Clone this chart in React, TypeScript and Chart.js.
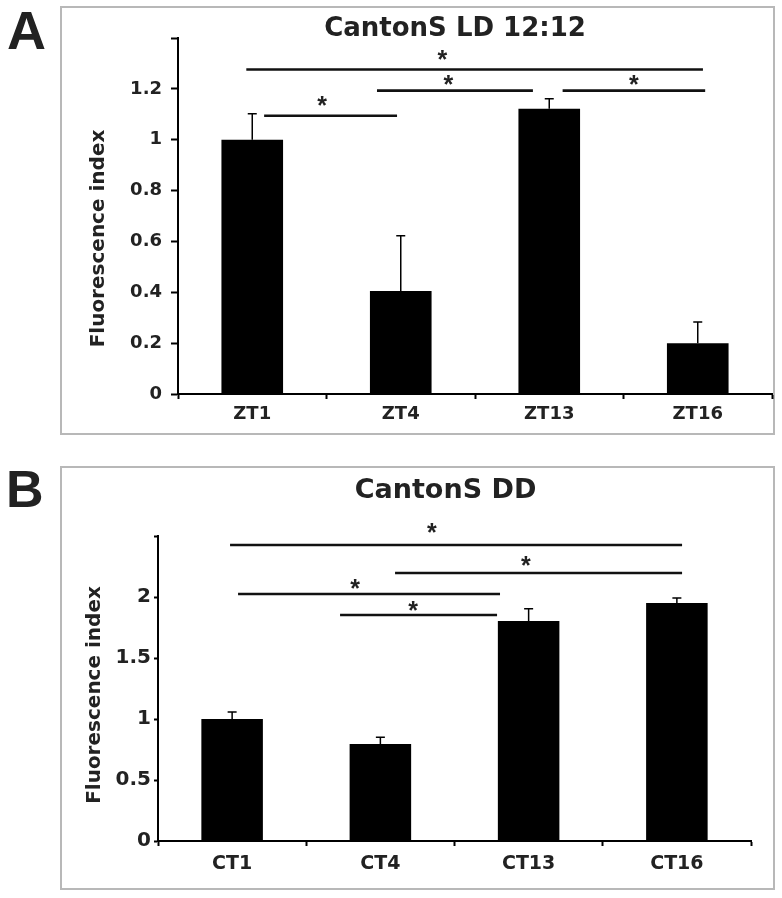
import React, { useEffect, useRef } from 'react';
import { Chart, registerables } from 'chart.js';

Chart.register(...registerables);

// ---------- Panel A data ----------
const titleA = 'CantonS LD 12:12';
const categoriesA = ['ZT1', 'ZT4', 'ZT13', 'ZT16'];
const valuesA = [1.0, 0.405, 1.122, 0.2];
const errorsA = [0.102, 0.217, 0.039, 0.083];
const yMaxA = 1.4;
const yStepA = 0.2;
// significance brackets (x in category index units, y in data units)
const sigStartA = [-0.04, 0.84, 2.09, 0.08];
const sigEndA = [3.035, 1.89, 3.05, 0.975];
const sigYA = [1.276, 1.193, 1.193, 1.094];
const starXA = [1.28, 1.32, 2.57, 0.47];
const starYA = [1.339, 1.24, 1.24, 1.157];

// ---------- Panel B data ----------
const titleB = 'CantonS DD';
const categoriesB = ['CT1', 'CT4', 'CT13', 'CT16'];
const valuesB = [1.0, 0.795, 1.803, 1.951];
const errorsB = [0.057, 0.055, 0.1, 0.041];
const yMaxB = 2.5;
const yStepB = 0.5;
const sigStartB = [-0.014, 1.099, 0.04, 0.728];
const sigEndB = [3.035, 3.035, 1.807, 1.787];
const sigYB = [2.426, 2.197, 2.025, 1.852];
const starXB = [1.348, 1.982, 0.829, 1.22];
const starYB = [2.574, 2.303, 2.115, 1.934];

const yLabel = 'Fluorescence index';

type Spec = {
  title: string;
  titleFont: number;
  titleX: number;
  titleBase: number;
  yTitleX: number;
  yTitleY: number;
  categories: string[];
  values: number[];
  errors: number[];
  yMax: number;
  yStep: number;
  sigStart: number[];
  sigEnd: number[];
  sigY: number[];
  starX: number[];
  starY: number[];
  width: number;
  height: number;
  padding: { left: number; right: number; top: number; bottom: number };
  yAxisWidth: number;
  xAxisHeight: number;
  yTickFont: number;
  xTickFont: number;
  yTickLen: number;
  yTickPad: number;
  xTickLen: number;
  xTickPad: number;
};

function makeOverlay(s: Spec) {
  return {
    id: 'overlay',
    afterDatasetsDraw(chart: any) {
      const { ctx } = chart;
      const xs = chart.scales.x;
      const ys = chart.scales.y;
      const meta = chart.getDatasetMeta(0);
      ctx.save();
      // error bars (upper only)
      ctx.strokeStyle = '#000';
      ctx.lineWidth = 1.5;
      s.errors.forEach((e, i) => {
        const px = meta.data[i].x;
        const top = ys.getPixelForValue(s.values[i]);
        const end = ys.getPixelForValue(s.values[i] + e);
        ctx.beginPath();
        ctx.moveTo(px, top);
        ctx.lineTo(px, end);
        ctx.moveTo(px - 4.5, end);
        ctx.lineTo(px + 4.5, end);
        ctx.stroke();
      });
      // significance lines
      ctx.strokeStyle = '#111';
      ctx.lineWidth = 2.6;
      s.sigStart.forEach((st, i) => {
        const x1 = xs.getPixelForValue(st);
        const x2 = xs.getPixelForValue(s.sigEnd[i]);
        const yy = ys.getPixelForValue(s.sigY[i]);
        ctx.beginPath();
        ctx.moveTo(x1, yy);
        ctx.lineTo(x2, yy);
        ctx.stroke();
      });
      // stars
      ctx.fillStyle = '#222';
      ctx.font = 'bold 25px "Liberation Sans", Arial, sans-serif';
      ctx.textAlign = 'center';
      ctx.textBaseline = 'alphabetic';
      s.starX.forEach((sx, i) => {
        const px = xs.getPixelForValue(sx);
        const py = ys.getPixelForValue(s.starY[i]);
        ctx.fillText('*', px, py + 14);
      });
      // title
      ctx.fillStyle = '#222';
      ctx.font = `bold ${s.titleFont}px "DejaVu Sans", sans-serif`;
      ctx.textAlign = 'center';
      ctx.textBaseline = 'alphabetic';
      ctx.fillText(s.title, s.titleX, s.titleBase);
      // y axis title
      ctx.translate(s.yTitleX, s.yTitleY);
      ctx.rotate(-Math.PI / 2);
      ctx.font = 'bold 20px "DejaVu Sans", sans-serif';
      ctx.textBaseline = 'middle';
      ctx.fillText(yLabel, 0, 0);
      ctx.restore();
    },
  };
}

function fmt(v: number) {
  return String(Number(v.toFixed(2)));
}

function buildConfig(s: Spec): any {
  return {
    type: 'bar',
    data: {
      labels: s.categories,
      datasets: [
        {
          data: s.values,
          backgroundColor: '#000',
          borderWidth: 0,
          categoryPercentage: 1,
          barPercentage: 0.415,
        },
      ],
    },
    options: {
      responsive: false,
      animation: false,
      events: [],
      layout: { padding: s.padding },
      plugins: {
        legend: { display: false },
        tooltip: { enabled: false },
        title: { display: false },
      },
      scales: {
        x: {
          grid: {
            display: true,
            drawOnChartArea: false,
            drawTicks: true,
            tickLength: s.xTickLen,
            tickColor: '#000',
            tickWidth: 2,
            offset: true,
          },
          border: { display: true, color: '#000', width: 2 },
          ticks: {
            color: '#222',
            padding: s.xTickPad,
            maxRotation: 0,
            font: { family: '"DejaVu Sans"', weight: 'bold', size: s.xTickFont },
          },
          afterFit: (scale: any) => {
            scale.height = s.xAxisHeight;
          },
        },
        y: {
          min: 0,
          max: s.yMax,
          grid: {
            display: true,
            drawOnChartArea: false,
            drawTicks: true,
            tickLength: s.yTickLen,
            tickColor: '#000',
            tickWidth: 2,
          },
          border: { display: true, color: '#000', width: 2 },
          ticks: {
            stepSize: s.yStep,
            color: '#222',
            padding: s.yTickPad,
            font: { family: '"DejaVu Sans"', weight: 'bold', size: s.yTickFont },
            callback: (v: any) => (Math.abs(v - s.yMax) < 1e-6 ? '' : fmt(Number(v))),
          },
          afterFit: (scale: any) => {
            scale.width = s.yAxisWidth;
          },
        },
      },
    },
    plugins: [makeOverlay(s)],
  };
}

const specA: Spec = {
  title: titleA,
  titleFont: 26,
  titleX: 394,
  titleBase: 29,
  yTitleX: 37.5,
  yTitleY: 231.5,
  categories: categoriesA,
  values: valuesA,
  errors: errorsA,
  yMax: yMaxA,
  yStep: yStepA,
  sigStart: sigStartA,
  sigEnd: sigEndA,
  sigY: sigYA,
  starX: starXA,
  starY: starYA,
  width: 713,
  height: 427,
  padding: { left: 0, right: 2, top: 31, bottom: 0 },
  yAxisWidth: 117,
  xAxisHeight: 40,
  yTickFont: 18,
  xTickFont: 18,
  yTickLen: 7,
  yTickPad: 9,
  xTickLen: 5,
  xTickPad: 5,
};

const specB: Spec = {
  title: titleB,
  titleFont: 27,
  titleX: 384.5,
  titleBase: 31,
  yTitleX: 33.5,
  yTitleY: 228,
  categories: categoriesB,
  values: valuesB,
  errors: errorsB,
  yMax: yMaxB,
  yStep: yStepB,
  sigStart: sigStartB,
  sigEnd: sigEndB,
  sigY: sigYB,
  starX: starXB,
  starY: starYB,
  width: 713,
  height: 422,
  padding: { left: 0, right: 23, top: 69, bottom: 0 },
  yAxisWidth: 97,
  xAxisHeight: 48,
  yTickFont: 20,
  xTickFont: 19,
  yTickLen: 4,
  yTickPad: 3,
  xTickLen: 5,
  xTickPad: 7,
};

function Panel({ spec, left, top }: { spec: Spec; left: number; top: number }) {
  const ref = useRef<HTMLCanvasElement | null>(null);
  useEffect(() => {
    if (!ref.current) return;
    const chart = new Chart(ref.current, buildConfig(spec));
    return () => chart.destroy();
  }, [spec]);
  return (
    <canvas
      ref={ref}
      width={spec.width}
      height={spec.height}
      style={{ position: 'absolute', left, top, width: spec.width, height: spec.height }}
    />
  );
}

export default function App() {
  const letter: React.CSSProperties = {
    position: 'absolute',
    fontFamily: '"Liberation Sans", Arial, sans-serif',
    fontWeight: 'bold',
    lineHeight: 1,
    color: '#222',
  };
  return (
    <div style={{ position: 'absolute', left: 0, top: 0, width: 782, height: 898, background: '#fff', overflow: 'hidden' }}>
      <div style={{ ...letter, left: 7, top: 3, fontSize: 54 }}>A</div>
      <div style={{ ...letter, left: 6, top: 463, fontSize: 52 }}>B</div>
      <div
        style={{
          position: 'absolute',
          left: 60,
          top: 6,
          width: 715,
          height: 429,
          border: '2px solid #b8b8b8',
          boxSizing: 'border-box',
        }}
      />
      <div
        style={{
          position: 'absolute',
          left: 60,
          top: 466,
          width: 715,
          height: 424,
          border: '2px solid #b8b8b8',
          boxSizing: 'border-box',
        }}
      />
      <Panel spec={specA} left={61} top={7} />
      <Panel spec={specB} left={61} top={467} />
    </div>
  );
}
